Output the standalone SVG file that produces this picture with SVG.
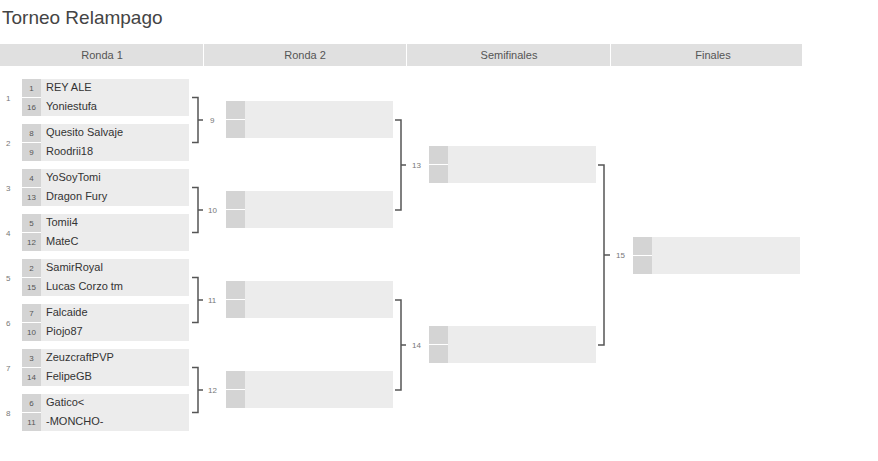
<svg xmlns="http://www.w3.org/2000/svg" width="878" height="461" viewBox="0 0 878 461">
<style>
text{font-family:"Liberation Sans",Arial,sans-serif}
.h{fill:#e0e0e0}.ht{font-size:11px;fill:#555;text-anchor:middle}
.s{fill:#d4d4d4}.b{fill:#ececec}
.sd{font-size:8px;fill:#555;text-anchor:middle}
.nm{font-size:11px;fill:#333}
.mn{font-size:8px;fill:#777}
.br{fill:none;stroke:#555;stroke-width:1.5}
.sep{stroke:#fff;stroke-width:1}
</style>
<rect width="878" height="461" fill="#fff"/>
<text x="2" y="24" font-size="19" fill="#444">Torneo Relampago</text>
<g id="header">
<rect class="h" x="0" y="44" width="802" height="22"/>
<line x1="203.5" y1="44" x2="203.5" y2="66" stroke="#fff"/>
<line x1="406.5" y1="44" x2="406.5" y2="66" stroke="#fff"/>
<line x1="610.5" y1="44" x2="610.5" y2="66" stroke="#fff"/>
<text class="ht" x="102" y="59">Ronda 1</text>
<text class="ht" x="305" y="59">Ronda 2</text>
<text class="ht" x="509" y="59">Semifinales</text>
<text class="ht" x="713" y="59">Finales</text>
</g>
<defs>
<g id="m">
<rect class="b" x="0" y="0" width="167" height="37"/>
<rect class="s" x="0" y="0" width="19" height="37"/>
<line class="sep" x1="0" y1="18.5" x2="19" y2="18.5"/>
</g>
</defs>
<g id="r1m1"><text class="mn" x="6" y="101">1</text><use href="#m" x="22" y="79"/><text class="sd" x="31.5" y="91">1</text><text class="nm" x="46" y="91">REY ALE</text><text class="sd" x="31.5" y="110">16</text><text class="nm" x="46" y="110">Yoniestufa</text></g>
<g id="r1m2"><text class="mn" x="6" y="146">2</text><use href="#m" x="22" y="124"/><text class="sd" x="31.5" y="136">8</text><text class="nm" x="46" y="136">Quesito Salvaje</text><text class="sd" x="31.5" y="155">9</text><text class="nm" x="46" y="155">Roodrii18</text></g>
<g id="r1m3"><text class="mn" x="6" y="191">3</text><use href="#m" x="22" y="169"/><text class="sd" x="31.5" y="181">4</text><text class="nm" x="46" y="181">YoSoyTomi</text><text class="sd" x="31.5" y="200">13</text><text class="nm" x="46" y="200">Dragon Fury</text></g>
<g id="r1m4"><text class="mn" x="6" y="236">4</text><use href="#m" x="22" y="214"/><text class="sd" x="31.5" y="226">5</text><text class="nm" x="46" y="226">Tomii4</text><text class="sd" x="31.5" y="245">12</text><text class="nm" x="46" y="245">MateC</text></g>
<g id="r1m5"><text class="mn" x="6" y="281">5</text><use href="#m" x="22" y="259"/><text class="sd" x="31.5" y="271">2</text><text class="nm" x="46" y="271">SamirRoyal</text><text class="sd" x="31.5" y="290">15</text><text class="nm" x="46" y="290">Lucas Corzo tm</text></g>
<g id="r1m6"><text class="mn" x="6" y="326">6</text><use href="#m" x="22" y="304"/><text class="sd" x="31.5" y="316">7</text><text class="nm" x="46" y="316">Falcaide</text><text class="sd" x="31.5" y="335">10</text><text class="nm" x="46" y="335">Piojo87</text></g>
<g id="r1m7"><text class="mn" x="6" y="371">7</text><use href="#m" x="22" y="349"/><text class="sd" x="31.5" y="361">3</text><text class="nm" x="46" y="361">ZeuzcraftPVP</text><text class="sd" x="31.5" y="380">14</text><text class="nm" x="46" y="380">FelipeGB</text></g>
<g id="r1m8"><text class="mn" x="6" y="416">8</text><use href="#m" x="22" y="394"/><text class="sd" x="31.5" y="406">6</text><text class="nm" x="46" y="406">Gatico&lt;</text><text class="sd" x="31.5" y="425">11</text><text class="nm" x="46" y="425">-MONCHO-</text></g>
<g id="r2m9"><use href="#m" x="226" y="101"/></g>
<g id="r2m10"><use href="#m" x="226" y="191"/></g>
<g id="r2m11"><use href="#m" x="226" y="281"/></g>
<g id="r2m12"><use href="#m" x="226" y="371"/></g>
<g id="sf13"><use href="#m" x="429" y="146"/></g>
<g id="sf14"><use href="#m" x="429" y="326"/></g>
<g id="f15"><use href="#m" x="633" y="237"/></g>
<g id="connectors">
<path class="br" d="M192 97.5H198V142.5H192M198 120H203"/>
<path class="br" d="M192 187.5H198V232.5H192M198 210H203"/>
<path class="br" d="M192 277.5H198V322.5H192M198 300H203"/>
<path class="br" d="M192 367.5H198V412.5H192M198 390H203"/>
<path class="br" d="M395 120H401V210H395M401 165H406"/>
<path class="br" d="M395 300H401V390H395M401 345H406"/>
<path class="br" d="M598 165H604V345H598M604 255H610"/>
<text class="mn" x="210" y="123">9</text>
<text class="mn" x="208" y="213">10</text>
<text class="mn" x="208" y="303">11</text>
<text class="mn" x="208" y="393">12</text>
<text class="mn" x="412" y="168">13</text>
<text class="mn" x="412" y="348">14</text>
<text class="mn" x="616" y="258">15</text>
</g>
</svg>
